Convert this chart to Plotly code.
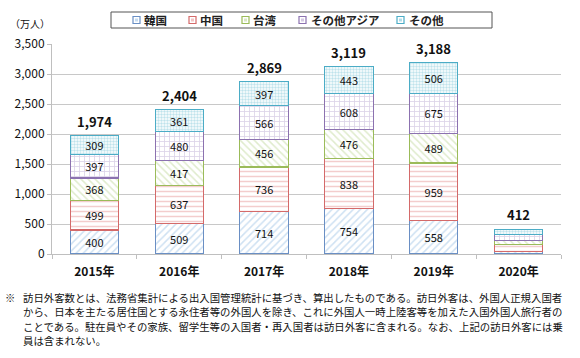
import plotly.graph_objects as go

years = ["2015年", "2016年", "2017年", "2018年", "2019年", "2020年"]
korea = [400, 509, 714, 754, 558, 49]
china = [499, 637, 736, 838, 959, 107]
taiwan = [368, 417, 456, 476, 489, 69]
other_asia = [397, 480, 566, 608, 675, 104]
other = [309, 361, 397, 443, 506, 83]
totals = [1974, 2404, 2869, 3119, 3188, 412]
y_ticks = [0, 500, 1000, 1500, 2000, 2500, 3000, 3500]

series = [
    ("韓国", korea, "/", "#9DC3E6", "#6A8FC4"),
    ("中国", china, "-", "#E89C9C", "#D46A6A"),
    ("台湾", taiwan, "\\", "#BFD89A", "#9BBB59"),
    ("その他アジア", other_asia, "+", "#B7A5D0", "#8C72B0"),
    ("その他", other, ".", "#7FC6D8", "#4BACC6"),
]

FONT = "Noto Sans CJK JP"
L, R, T, B = 52, 19, 44, 104
W, H = 580, 358
PW, PH = W - L - R, H - T - B


def xp(px):
    return (px - L) / PW


def yp(py):
    return (H - B - py) / PH


fig = go.Figure()
for name, vals, shape, fg, border in series:
    labels = [f"{v:,}" if i < 5 else "" for i, v in enumerate(vals)]
    fig.add_trace(go.Bar(
        name=name, x=years, y=vals,
        text=labels, textposition="inside", insidetextanchor="middle",
        textangle=0, textfont=dict(color="#111111", size=11, family=FONT),
        marker=dict(color="white",
                    line=dict(color=border, width=1.1),
                    pattern=dict(shape=shape, fgcolor=fg, bgcolor="white",
                                 size=5 if shape != "." else 3,
                                 solidity=0.3 if shape != "." else 0.5,
                                 fillmode="overlay")),
        hoverinfo="skip", showlegend=False,
    ))

# bold totals above each stack
for yr, tot in zip(years, totals):
    fig.add_annotation(x=yr, y=tot, xref="x", yref="y", text=f"<b>{tot:,}</b>",
                       showarrow=False, yanchor="bottom", yshift=3,
                       font=dict(size=13, color="#111111", family=FONT))

fig.update_layout(
    barmode="stack", bargap=0.43,
    width=W, height=H,
    margin=dict(l=L, r=R, t=T, b=B, autoexpand=False),
    uniformtext=dict(minsize=11, mode="show"),
    paper_bgcolor="white", plot_bgcolor="white",
    font=dict(family=FONT, color="#111111"),
    showlegend=False,
    xaxis=dict(showline=True, linecolor="#BFBFBF", ticks="outside",
               tickson="boundaries", tickcolor="#BFBFBF", ticklen=4,
               tickfont=dict(size=12, family=FONT, color="#111111"),
               tickprefix="<b>", ticksuffix="</b>", automargin=False,
               ticklabelstandoff=7),
    yaxis=dict(range=[0, 3500], tickvals=y_ticks, tickformat=",",
               showgrid=True, gridcolor="#C8C8C8", gridwidth=1,
               showline=True, linecolor="#BFBFBF", ticks="outside",
               tickcolor="#BFBFBF", ticklen=4,
               tickfont=dict(size=12, family=FONT, color="#111111"),
               zeroline=False, automargin=False),
)

# manual legend (box, small swatches, labels)
fig.add_shape(type="rect", xref="paper", yref="paper",
              x0=xp(111), x1=xp(492), y0=yp(28), y1=yp(12),
              line=dict(color="#555555", width=1), fillcolor="white", layer="above")
sw_x = [133, 189, 242, 299, 397]
tx_x = [142, 198, 251, 309, 407]
for (name, vals, shape, fg, border), sx, tx in zip(series, sw_x, tx_x):
    fig.add_shape(type="rect", xref="paper", yref="paper",
                  x0=xp(sx), x1=xp(sx + 7), y0=yp(23.5), y1=yp(16.5),
                  line=dict(color=border, width=1.2), fillcolor="white",
                  layer="above")
    fig.add_shape(type="rect", xref="paper", yref="paper",
                  x0=xp(sx + 2), x1=xp(sx + 5), y0=yp(21.5), y1=yp(18.5),
                  line=dict(width=0), fillcolor=fg, opacity=0.6, layer="above")
    fig.add_annotation(text=f"<b>{name}</b>", xref="paper", yref="paper",
                       x=xp(tx), y=yp(20), xanchor="left", yanchor="middle",
                       showarrow=False, font=dict(size=11.5, family=FONT, color="#222222"))

fig.add_annotation(text="（万人）", xref="paper", yref="paper", x=xp(8), y=yp(24),
                   xanchor="left", yanchor="middle", showarrow=False,
                   font=dict(size=10, family=FONT, color="#111111"))

note_lines = [
    "訪日外客数とは、法務省集計による出入国管理統計に基づき、算出したものである。訪日外客は、外国人正規入国者",
    "から、日本を主たる居住国とする永住者等の外国人を除き、これに外国人一時上陸客等を加えた入国外国人旅行者の",
    "ことである。駐在員やその家族、留学生等の入国者・再入国者は訪日外客に含まれる。なお、上記の訪日外客には乗",
    "員は含まれない。",
]
note_y = [297, 311.5, 326, 340.5]
fig.add_annotation(text="※", xref="paper", yref="paper", x=xp(3), y=yp(note_y[0]),
                   xanchor="left", yanchor="middle", showarrow=False,
                   font=dict(size=10.3, family=FONT, color="#111111"))
for line, ly in zip(note_lines, note_y):
    fig.add_annotation(text=line, xref="paper", yref="paper",
                       x=xp(21), y=yp(ly), align="left",
                       xanchor="left", yanchor="middle", showarrow=False,
                       font=dict(size=10.4, family=FONT, color="#111111"))

fig.write_html("out.html", config={"displayModeBar": False, "staticPlot": True},
               post_script="document.body.style.margin='0';document.body.style.padding='0';")
